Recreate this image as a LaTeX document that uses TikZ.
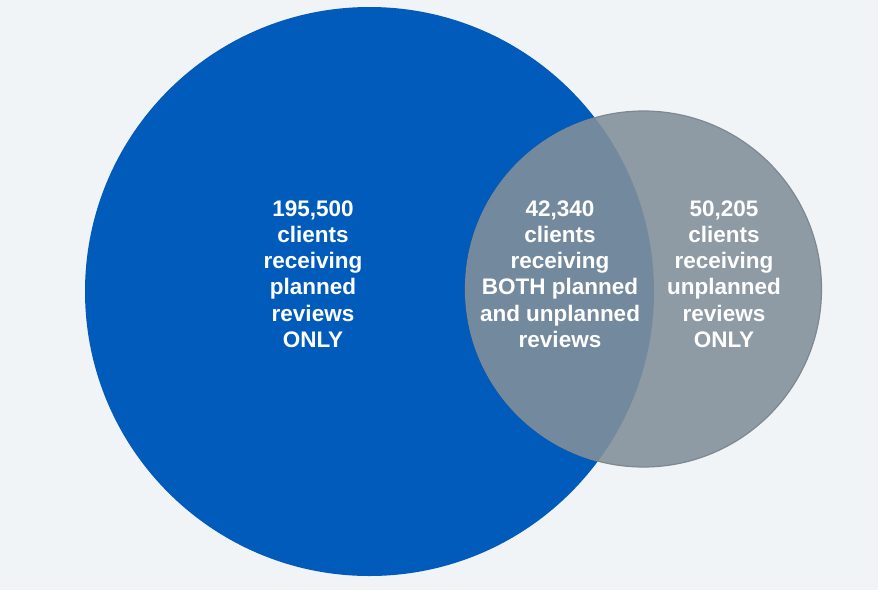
\documentclass[tikz,border=0pt]{standalone}
\usepackage{fontspec}
\setmainfont{Liberation Sans}
\usepackage{tikz}
\usetikzlibrary{positioning}

\definecolor{bgcol}{RGB}{241,244,246}
\definecolor{plannedblue}{RGB}{0,91,187}
\definecolor{unplannedgray}{RGB}{130,143,154}
\definecolor{rimgray}{RGB}{125,136,146}

\begin{document}
\begin{tikzpicture}[x=1pt,y=-1pt]
\tikzstyle{planset}=[circle,fill=plannedblue,minimum size=569pt,inner sep=0pt]
\tikzstyle{unplanset}=[circle,fill=unplannedgray,fill opacity=0.89,draw=rimgray,line width=1.2pt,minimum size=356pt,inner sep=0pt]
\tikzstyle{countlabel}=[text=white,align=center,font=\bfseries\fontsize{22.5}{26.3}\selectfont,inner sep=0pt]

\fill [bgcol] (0,0) rectangle (878,590);
\useasboundingbox (0,0) rectangle (878,590);

\node [planset] (planned) at (369.5,291.5) {};
\node [unplanset] (unplanned) at (643.5,289) {};

\node [countlabel] (plannedonly) at (313,274) {195,500\\clients\\receiving\\planned\\reviews\\ONLY};
\node [countlabel] (both) at (560,274) {42,340\\clients\\receiving\\BOTH planned\\and unplanned\\reviews};
\node [countlabel] (unplannedonly) at (724,274) {50,205\\clients\\receiving\\unplanned\\reviews\\ONLY};
\end{tikzpicture}
\end{document}
